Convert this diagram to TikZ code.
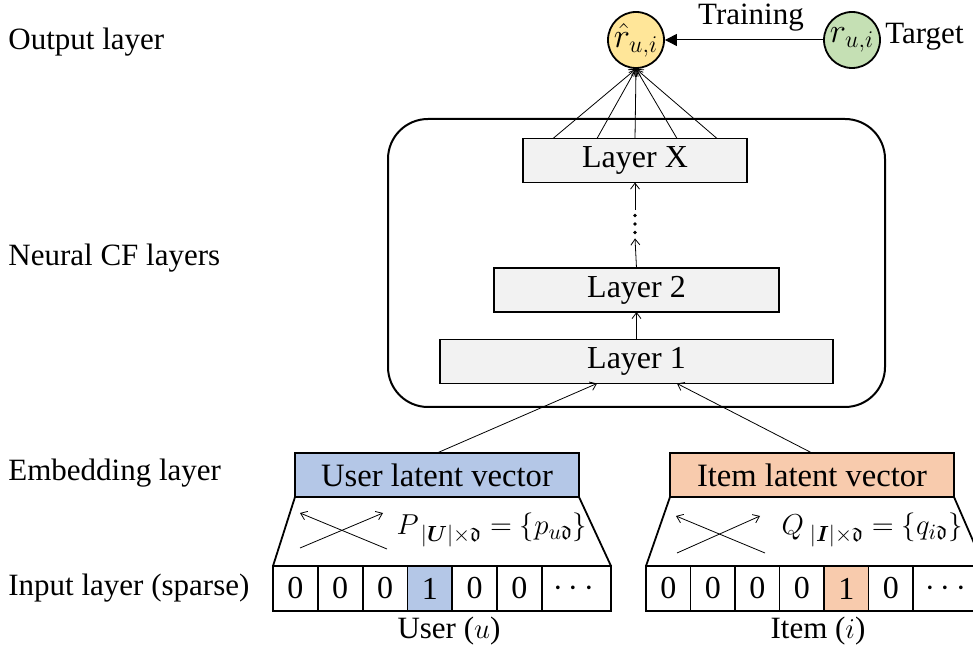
\documentclass[tikz,border=0pt]{standalone}
\usepackage{amsmath,amssymb,bm}
\usepackage{fontspec}
\setmainfont{Liberation Serif}
\usetikzlibrary{arrows.meta}
\definecolor{outyel}{HTML}{FFE699}
\definecolor{tgtgreen}{HTML}{C5E0B4}
\definecolor{userblue}{HTML}{B4C7E7}
\definecolor{itemorange}{HTML}{F8CBAD}
\definecolor{laygray}{HTML}{F2F2F2}
\begin{document}
\begin{tikzpicture}[x=0.5pt,y=-0.5pt,
  font=\fontsize{15.5}{18}\selectfont,
  thinarrow/.style={line width=0.4pt,-{Straight Barb[length=3pt,width=4.5pt]}},
  layerbox/.style={draw,line width=0.9pt,fill=laygray,inner sep=0pt,outer sep=0pt,minimum height=22pt,font=\fontsize{16}{18}\selectfont},
  latent/.style={draw,line width=0.9pt,inner sep=0pt,outer sep=0pt,minimum width=142pt,minimum height=22pt,font=\fontsize{16.3}{18}\selectfont},
  cell/.style={draw,line width=0.9pt,inner sep=0pt,outer sep=0pt,minimum height=22.5pt,font=\fontsize{16}{18}\selectfont},
  ucell/.style={cell,minimum width=22.4pt},
  icell/.style={cell,minimum width=22.25pt},
  circ/.style={circle,draw,line width=0.9pt,minimum size=28pt,inner sep=0pt,font=\fontsize{18}{20}\selectfont},
  sidelabel/.style={anchor=west,inner sep=0pt}
]
\useasboundingbox (0,0) rectangle (973,651);

% side labels
\node[sidelabel] (lout) at (8,42) {Output layer};
\node[sidelabel] (lcf)  at (8,258) {Neural CF layers};
\node[sidelabel] (lemb) at (8,473) {Embedding layer};
\node[sidelabel] (linp) at (8,588) {Input layer (sparse)};

% output and target
\node[circ,fill=outyel] (out) at (636,40) {$\hat{r}_{u,i}$};
\node[circ,fill=tgtgreen] (tgt) at (852,40) {$r_{u,i}$};
\draw[line width=0.5pt,-{Triangle[length=6pt,width=6pt]}] (tgt) -- (out);
\node (train) at (751,18) {Training};
\node[anchor=west,inner sep=0pt] (target) at (885,37) {Target};

% neural CF box
\node[draw,line width=1pt,rounded corners=20pt,minimum width=248.5pt,minimum height=144pt,inner sep=0pt] (cf) at (636.5,263) {};
\node[layerbox,minimum width=112pt] (LX) at (635,160.5) {Layer X};
\node[layerbox,minimum width=142.5pt] (L2) at (636.5,290) {Layer 2};
\node[layerbox,minimum width=196.5pt] (L1) at (636.5,361.5) {Layer 1};
\node[minimum width=3pt,minimum height=14pt,inner sep=0pt] (dots) at (635,224) {};
\foreach \yy in {215.5,224,232.5} \fill (635,\yy) circle (0.9pt);
\draw[thinarrow] (L1.north) -- (L2.south);
\draw[thinarrow] (L2.north) -- (dots.south);
\draw[thinarrow] (dots.north) -- (LX.south);
\foreach \dx in {-41pt,-19pt,0pt,21pt,41pt}
  \draw[thinarrow] ([xshift=\dx]LX.north) -- (out.south);

% latent vectors
\node[latent,fill=userblue] (ul) at (437,475) {User latent vector};
\node[latent,fill=itemorange] (il) at (812,475) {Item latent vector};
\draw[thinarrow] (ul.north) -- ([xshift=-19.75pt]L1.south);
\draw[thinarrow] (il.north) -- ([xshift=20.25pt]L1.south);

% user input row
\node[ucell] (u1) at (295.4,588.5) {0};
\node[ucell] (u2) at (340.2,588.5) {0};
\node[ucell] (u3) at (385.0,588.5) {0};
\node[ucell,fill=userblue] (u4) at (429.8,588.5) {1};
\node[ucell] (u5) at (474.6,588.5) {0};
\node[ucell] (u6) at (519.4,588.5) {0};
\node[cell,minimum width=34.5pt] (u7) at (576.5,588.5) {$\cdots$};
\draw[line width=0.9pt] (ul.south west) -- (u1.north west);
\draw[line width=0.9pt] (ul.south east) -- (u7.north east);
\coordinate (ua1) at (387,549);
\coordinate (ua2) at (300,513);
\coordinate (ub1) at (300,548);
\coordinate (ub2) at (383,513);
\draw[thinarrow] (ua1) -- (ua2);
\draw[thinarrow] (ub1) -- (ub2);
\node (uform) at (492,530) {$P_{\;|\bm{U}|\times\mathfrak{d}} = \{p_{u\mathfrak{d}}\}$};
\node (ulab) at (449,631) {User ($u$)};

% item input row
\node[icell] (i1) at (668.25,588.5) {0};
\node[icell] (i2) at (712.75,588.5) {0};
\node[icell] (i3) at (757.25,588.5) {0};
\node[icell] (i4) at (801.75,588.5) {0};
\node[icell,fill=itemorange] (i5) at (846.25,588.5) {1};
\node[icell] (i6) at (890.75,588.5) {0};
\node[cell,minimum width=35.5pt] (i7) at (948.5,588.5) {$\cdots$};
\draw[line width=0.9pt] (il.south west) -- (i1.north west);
\draw[line width=0.9pt] (il.south east) -- (i7.north east);
\coordinate (ia1) at (765,553);
\coordinate (ia2) at (676,516);
\coordinate (ib1) at (677,553);
\coordinate (ib2) at (760,516);
\draw[thinarrow] (ia1) -- (ia2);
\draw[thinarrow] (ib1) -- (ib2);
\node (iform) at (872,530) {$Q_{\;|\bm{I}|\times\mathfrak{d}} = \{q_{i\mathfrak{d}}\}$};
\node (ilab) at (818,631) {Item ($i$)};
\end{tikzpicture}
\end{document}
